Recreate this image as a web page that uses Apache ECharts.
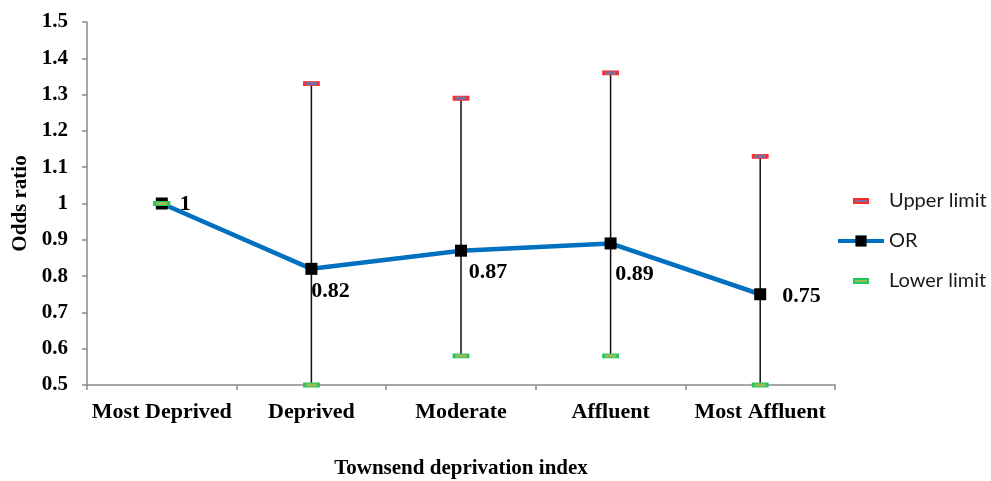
<!DOCTYPE html>
<html>
<head>
<meta charset="utf-8">
<script src="https://cdn.jsdelivr.net/npm/echarts@6/dist/echarts.min.js"></script>
<style>html,body{margin:0;padding:0;background:#fff;}#c{width:991px;height:481px;}</style>
</head>
<body>
<div id="c"></div>
<script>
const categories = ['Most Deprived', 'Deprived', 'Moderate', 'Affluent', 'Most Affluent'];
const orValues = [1, 0.82, 0.87, 0.89, 0.75];
const upperLimit = [1, 1.33, 1.29, 1.36, 1.13];
const lowerLimit = [1, 0.5, 0.58, 0.58, 0.5];
const yTicks = { min: 0.5, max: 1.5, interval: 0.1 };

const serif = '"Liberation Serif", "Times New Roman", serif';
const labelCfg = [
  { position: 'right', distance: 12, offset: [0, 1] },
  { position: 'bottom', distance: 5, offset: [19, 0] },
  { position: 'bottom', distance: 5, offset: [27, 0] },
  { position: 'bottom', distance: 5, offset: [24, 9] },
  { position: 'right', distance: 16, offset: [0, 2] }
];

const chart = echarts.init(document.getElementById('c'), null, { renderer: 'canvas' });
const capPath = 'path://M0,0 M46,14 M16,5 L30,5 L30,9 L16,9 Z';

chart.setOption({
  animation: false,
  grid: { left: 87, right: 156, top: 22, bottom: 96, containLabel: false, outerBoundsMode: 'none' },
  legend: {
    orient: 'vertical',
    left: 836,
    top: 191,
    padding: 0,
    itemWidth: 46,
    itemHeight: 14,
    itemGap: 20,
    textStyle: { fontFamily: 'Lato', fontSize: 20, color: '#1a1a1a' },
    data: [
      { name: 'Upper limit', icon: capPath },
      { name: 'OR', lineStyle: { width: 4, color: '#0070C0' } },
      { name: 'Lower limit', icon: capPath }
    ]
  },
  xAxis: {
    type: 'category',
    data: categories,
    boundaryGap: true,
    axisLine: { lineStyle: { color: '#8a8a8a', width: 1.5 } },
    axisTick: { show: true, length: 5, lineStyle: { color: '#8a8a8a', width: 1.5 } },
    axisLabel: { color: '#000', fontFamily: serif, fontWeight: 'bold', fontSize: 22, margin: 16, interval: 0 },
    name: 'Townsend deprivation index',
    nameLocation: 'middle',
    nameGap: 73,
    nameTextStyle: { color: '#000', fontFamily: serif, fontWeight: 'bold', fontSize: 21 }
  },
  yAxis: {
    type: 'value',
    min: yTicks.min,
    max: yTicks.max,
    interval: yTicks.interval,
    splitLine: { show: false },
    axisLine: { show: true, lineStyle: { color: '#8a8a8a', width: 1.5 } },
    axisTick: { show: true, length: 5, lineStyle: { color: '#8a8a8a', width: 1.5 } },
    axisLabel: {
      color: '#000', fontFamily: serif, fontWeight: 'bold', fontSize: 21, margin: 19,
      formatter: v => String(Number(v.toFixed(1)))
    },
    name: 'Odds ratio',
    nameLocation: 'middle',
    nameGap: 51,
    nameTextStyle: { color: '#000', fontFamily: serif, fontWeight: 'bold', fontSize: 21 }
  },
  series: [
    {
      name: 'errorbars',
      type: 'custom',
      z: 1,
      silent: true,
      data: categories.map((c, i) => [i, lowerLimit[i], upperLimit[i]]),
      encode: { x: 0, y: [1, 2] },
      renderItem: function (params, api) {
        const lo = api.coord([api.value(0), api.value(1)]);
        const hi = api.coord([api.value(0), api.value(2)]);
        return {
          type: 'line',
          shape: { x1: lo[0], y1: lo[1], x2: hi[0], y2: hi[1] },
          style: { stroke: '#111', lineWidth: 1.5 }
        };
      }
    },
    {
      name: 'Upper limit',
      type: 'line',
      z: 4,
      data: upperLimit,
      symbol: 'rect',
      symbolSize: [14, 4],
      showSymbol: true,
      lineStyle: { width: 0, opacity: 0 },
      itemStyle: { color: '#7A6E9E', borderColor: '#FF2A2A', borderWidth: 1.5 }
    },
    {
      name: 'OR',
      type: 'line',
      z: 3,
      data: orValues.map((v, i) => ({ value: v, label: labelCfg[i] })),
      symbol: 'rect',
      symbolSize: 12,
      showSymbol: true,
      lineStyle: { color: '#0070C0', width: 4.5 },
      itemStyle: { color: '#000' },
      label: {
        show: true,
        color: '#000',
        fontFamily: serif,
        fontWeight: 'bold',
        fontSize: 22,
        formatter: p => String(p.value)
      }
    },
    {
      name: 'Lower limit',
      type: 'line',
      z: 5,
      data: lowerLimit,
      symbol: 'rect',
      symbolSize: [14, 4],
      showSymbol: true,
      lineStyle: { width: 0, opacity: 0 },
      itemStyle: { color: '#9BBB59', borderColor: '#22C55E', borderWidth: 1.5 }
    }
  ]
});
</script>
</body>
</html>
